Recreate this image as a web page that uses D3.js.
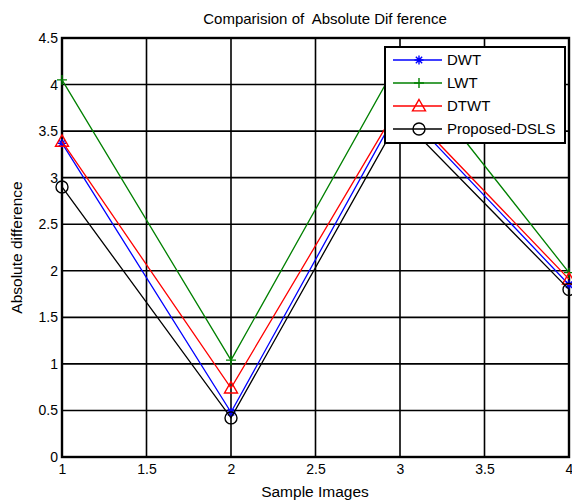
<!DOCTYPE html>
<html><head><meta charset="utf-8">
<script src="https://cdn.jsdelivr.net/npm/d3@7"></script>
<style>body{margin:0;background:#fff}svg{display:block;font-family:"Liberation Sans",Arial,sans-serif}</style>
</head><body><svg id="c" width="572" height="504"></svg>
<script>
const sampleX = [1, 2, 3, 4];
const seriesNames = ["DWT", "LWT", "DTWT", "Proposed-DSLS"];
const dwt = [3.37, 0.48, 3.76, 1.85];
const lwt = [4.05, 1.04, 4.28, 1.98];
const dtwt = [3.39, 0.74, 3.8, 1.91];
const dsls = [2.9, 0.42, 3.65, 1.8];
const xTicks = [1, 1.5, 2, 2.5, 3, 3.5, 4];
const yTicks = [0, 0.5, 1, 1.5, 2, 2.5, 3, 3.5, 4, 4.5];
const colors = ["#0000ff", "#008000", "#ff0000", "#000000"];
const markers = ["star", "plus", "triangle", "circle"];

const svg = d3.select("#c");
const L = 62, R = 569, T = 38, B = 457;
const x = d3.scaleLinear().domain([1, 4]).range([L, R]);
const y = d3.scaleLinear().domain([0, 4.5]).range([B, T]);

// grid
svg.append("g").selectAll("line").data(xTicks).join("line")
  .attr("x1", d => x(d)).attr("x2", d => x(d)).attr("y1", T).attr("y2", B)
  .attr("stroke", "#000").attr("stroke-width", 1.6);
svg.append("g").selectAll("line").data(yTicks).join("line")
  .attr("y1", d => y(d)).attr("y2", d => y(d)).attr("x1", L).attr("x2", R)
  .attr("stroke", "#000").attr("stroke-width", 1.6);

// axes
const xa = svg.append("g").attr("transform", `translate(0,${B})`)
  .call(d3.axisBottom(x).tickValues(xTicks).tickSize(0).tickPadding(5).tickFormat(d3.format("")));
const ya = svg.append("g").attr("transform", `translate(${L},0)`)
  .call(d3.axisLeft(y).tickValues(yTicks).tickSize(0).tickPadding(4).tickFormat(d3.format("")));
[xa, ya].forEach(a => { a.select(".domain").remove(); a.selectAll("text").attr("font-size", 14).attr("fill", "#000").attr("font-family", "Liberation Sans, Arial, sans-serif"); });
xa.selectAll("text").attr("dy", "0.85em");

// frame
svg.append("rect").attr("x", L).attr("y", T).attr("width", R - L).attr("height", B - T)
  .attr("fill", "none").attr("stroke", "#000").attr("stroke-width", 2.4);

const data = [dwt, lwt, dtwt, dsls];
function drawMarker(g, type, cx, cy, color) {
  if (type === "star") {
    const s = 4.5;
    g.append("path").attr("d", `M${cx - s},${cy}H${cx + s}M${cx},${cy - s}V${cy + s}M${cx - s * 0.7},${cy - s * 0.7}L${cx + s * 0.7},${cy + s * 0.7}M${cx - s * 0.7},${cy + s * 0.7}L${cx + s * 0.7},${cy - s * 0.7}`)
      .attr("stroke", color).attr("stroke-width", 1.4).attr("fill", "none");
  } else if (type === "plus") {
    const s = 5;
    g.append("path").attr("d", `M${cx - s},${cy}H${cx + s}M${cx},${cy - s}V${cy + s}`)
      .attr("stroke", color).attr("stroke-width", 1.4).attr("fill", "none");
  } else if (type === "triangle") {
    const s = 6.5;
    g.append("path").attr("d", `M${cx},${cy - s}L${cx + s},${cy + s * 0.75}L${cx - s},${cy + s * 0.75}Z`)
      .attr("stroke", color).attr("stroke-width", 1.4).attr("fill", "none");
  } else {
    g.append("circle").attr("cx", cx).attr("cy", cy).attr("r", 6)
      .attr("stroke", color).attr("stroke-width", 1.4).attr("fill", "none");
  }
}
const line = d3.line().x((d, i) => x(sampleX[i])).y(d => y(d));
data.forEach((vals, k) => {
  const g = svg.append("g");
  g.append("path").datum(vals).attr("d", line).attr("fill", "none")
    .attr("stroke", colors[k]).attr("stroke-width", 1.3);
  vals.forEach((v, i) => drawMarker(g, markers[k], x(sampleX[i]), y(v), colors[k]));
});

// legend
const lg = svg.append("g");
lg.append("rect").attr("x", 385).attr("y", 47).attr("width", 180).attr("height", 96)
  .attr("fill", "#fff").attr("stroke", "#000").attr("stroke-width", 2);
seriesNames.forEach((n, k) => {
  const yy = 60 + k * 23;
  lg.append("line").attr("x1", 393).attr("x2", 442).attr("y1", yy).attr("y2", yy)
    .attr("stroke", colors[k]).attr("stroke-width", 1.3);
  drawMarker(lg, markers[k], 419, yy, colors[k]);
  lg.append("text").attr("x", 447).attr("y", yy).attr("dy", "0.36em")
    .attr("font-size", 15).text(n);
});

// titles
svg.append("text").attr("x", 325).attr("y", 24).attr("text-anchor", "middle")
  .attr("font-size", 15).style("white-space", "pre").text("Comparision of  Absolute Dif ference");
svg.append("text").attr("x", 315).attr("y", 497).attr("text-anchor", "middle")
  .attr("font-size", 15.5).text("Sample Images");
svg.append("text").attr("transform", `translate(22,${(T + B) / 2}) rotate(-90)`)
  .attr("text-anchor", "middle").attr("font-size", 15.5).text("Absolute difference");
</script></body></html>
